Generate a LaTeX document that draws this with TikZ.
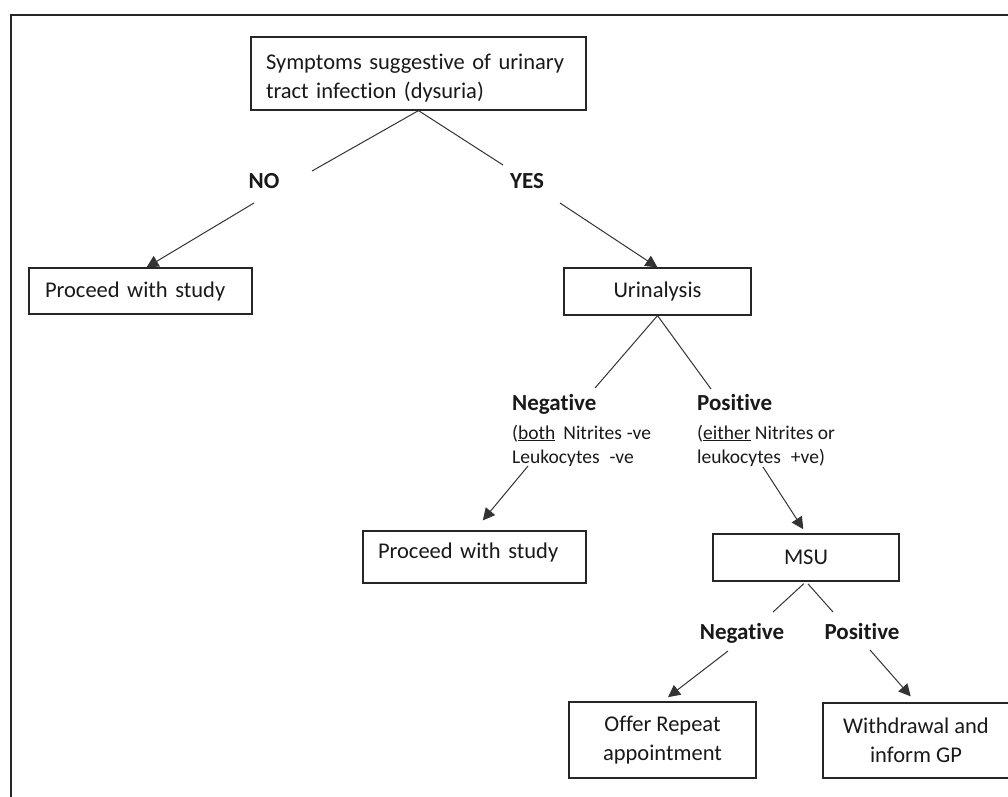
\documentclass[tikz,border=0pt]{standalone}
\usepackage{fontspec}
\setmainfont{Carlito}[Ligatures=NoCommon]
\usetikzlibrary{arrows.meta}
\begin{document}
\begin{tikzpicture}[x=1pt,y=-1pt,
  box/.style={draw=black!85, line width=1.2pt, inner sep=0pt, font=\fontsize{22.5}{29}\selectfont, text=black!90},
  lbl/.style={font=\fontsize{23}{28}\selectfont\bfseries, inner sep=0pt, text=black!90},
  small/.style={font=\fontsize{19.5}{24}\selectfont, inner sep=0pt, text=black!90},
  link/.style={draw=black!80, line width=1pt},
  arr/.style={link, -{Triangle[length=12pt,width=12pt]}},
]
\useasboundingbox[fill=white] (0,0) rectangle (1008,796);
\clip (0,0) rectangle (1008,796);
% outer frame
\coordinate (fA) at (11,800);
\coordinate (fB) at (11,15);
\coordinate (fC) at (1012,15);
\draw[black!85, line width=1.4pt] (fA) -- (fB) -- (fC);

% boxes
\node[box, text width=305pt, inner xsep=15pt, minimum height=73pt, align=left] (top) at (418.5,73.5)
  {\rule{0pt}{25pt}Symptoms suggestive of urinary\\tract infection (dysuria)};
\node[box, text width=191pt, inner xsep=16pt, minimum height=46pt, align=left] (p1) at (140.5,291) {Proceed with study};
\node[box, minimum width=187pt, minimum height=47pt] (uri) at (657.5,291.5) {Urinalysis};
\node[box, text width=193pt, inner xsep=15pt, minimum height=52pt, align=left, text height=16pt, text depth=13pt] (p2) at (474.5,557) {Proceed with study};
\node[box, minimum width=186pt, minimum height=47pt] (msu) at (806,557.5) {MSU};
\node[box, minimum width=187pt, minimum height=76pt, align=center] (offer) at (662.5,740) {Offer Repeat\\appointment};
\node[box, minimum width=186pt, minimum height=75pt, align=center] (wd) at (916,740.5) {Withdrawal and\\inform GP};

% labels
\node[lbl, anchor=base] (no) at (264,188.5) {NO};
\node[lbl, anchor=base] (yes) at (527,188.5) {YES};
\node[lbl, anchor=base west] (uneg) at (512,410) {Negative};
\node[small, anchor=base west] (unegA) at (512,439) {(\underline{both}\hspace{8pt}Nitrites\hspace{5pt}-ve};
\node[small, anchor=base west] (unegB) at (512,463) {Leukocytes\hspace{10pt}-ve};
\node[lbl, anchor=base west] (upos) at (697,410) {Positive};
\node[small, anchor=base west] (uposA) at (697,439) {(\underline{either} Nitrites or};
\node[small, anchor=base west] (uposB) at (697,463) {leukocytes\hspace{10pt}+ve)};
\node[lbl, anchor=base] (mneg) at (742,639.5) {Negative};
\node[lbl, anchor=base] (mpos) at (862,639.5) {Positive};

% connector ends
\coordinate (noIn) at (312,171);
\coordinate (yesIn) at (503,165);
\coordinate (noOut) at (254,203);
\coordinate (yesOut) at (560,203);
\coordinate (unegIn) at (595,388);
\coordinate (uposIn) at (711,389);
\coordinate (unegOut) at (528,466);
\coordinate (uposOut) at (763,467);
\coordinate (mnegIn) at (773,612);
\coordinate (mposIn) at (833,612);
\coordinate (mnegOut) at (728,651);
\coordinate (mposOut) at (870,650);

% connectors
\draw[link] (top.south) -- (noIn);
\draw[link] (top.south) -- (yesIn);
\draw[arr] (noOut) -- ([xshift=6pt]p1.north);
\draw[arr] (yesOut) -- (uri.north);
\draw[link] (uri.south) -- (unegIn);
\draw[link] (uri.south) -- (uposIn);
\draw[arr, shorten >=13pt] (unegOut) -- (p2.north);
\draw[arr, shorten >=5pt] (uposOut) -- (msu.north);
\draw[link, shorten <=3pt] (msu.south) -- (mnegIn);
\draw[link, shorten <=3pt] (msu.south) -- (mposIn);
\draw[arr, shorten >=7pt] (mnegOut) -- (offer.north);
\draw[arr, shorten >=8pt] (mposOut) -- (wd.north);
\end{tikzpicture}
\end{document}
